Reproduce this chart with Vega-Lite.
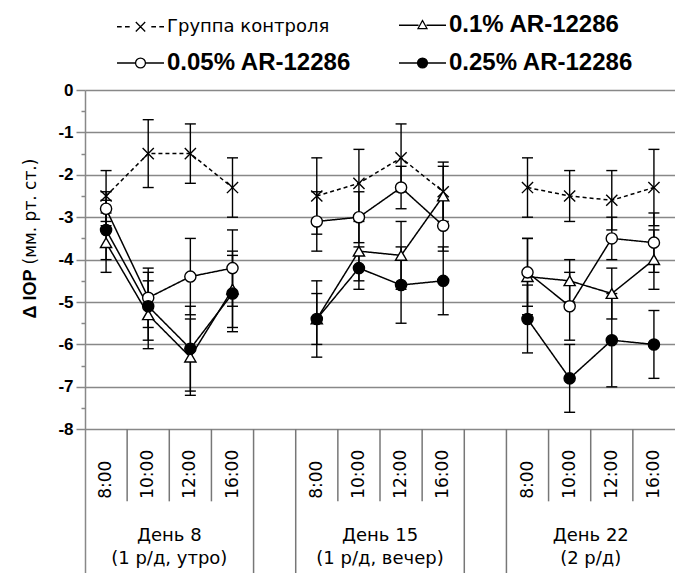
{
  "$schema": "https://vega.github.io/schema/vega-lite/v6.json",
  "width": 590,
  "height": 483,
  "autosize": {"type": "none"},
  "padding": {"left": 85, "top": 90, "right": 0, "bottom": 0},
  "background": "white",
  "config": {"view": {"stroke": null}},
  "datasets": {
    "iop": [
      {"s": "Группа контроля", "day": "D8", "col": "D8 8:00", "t": "8:00", "m": -2.5, "lo": -3.1, "hi": -1.9},
      {"s": "Группа контроля", "day": "D8", "col": "D8 10:00", "t": "10:00", "m": -1.5, "lo": -2.3, "hi": -0.7},
      {"s": "Группа контроля", "day": "D8", "col": "D8 12:00", "t": "12:00", "m": -1.5, "lo": -2.2, "hi": -0.8},
      {"s": "Группа контроля", "day": "D8", "col": "D8 16:00", "t": "16:00", "m": -2.3, "lo": -3.0, "hi": -1.6},
      {"s": "Группа контроля", "day": "D15", "col": "D15 8:00", "t": "8:00", "m": -2.5, "lo": -3.4, "hi": -1.6},
      {"s": "Группа контроля", "day": "D15", "col": "D15 10:00", "t": "10:00", "m": -2.2, "lo": -3.0, "hi": -1.4},
      {"s": "Группа контроля", "day": "D15", "col": "D15 12:00", "t": "12:00", "m": -1.6, "lo": -2.4, "hi": -0.8},
      {"s": "Группа контроля", "day": "D15", "col": "D15 16:00", "t": "16:00", "m": -2.4, "lo": -3.1, "hi": -1.7},
      {"s": "Группа контроля", "day": "D22", "col": "D22 8:00", "t": "8:00", "m": -2.3, "lo": -3.0, "hi": -1.6},
      {"s": "Группа контроля", "day": "D22", "col": "D22 10:00", "t": "10:00", "m": -2.5, "lo": -3.1, "hi": -1.9},
      {"s": "Группа контроля", "day": "D22", "col": "D22 12:00", "t": "12:00", "m": -2.6, "lo": -3.3, "hi": -1.9},
      {"s": "Группа контроля", "day": "D22", "col": "D22 16:00", "t": "16:00", "m": -2.3, "lo": -3.2, "hi": -1.4},

      {"s": "0.1% AR-12286", "day": "D8", "col": "D8 8:00", "t": "8:00", "m": -3.6, "lo": -4.3, "hi": -2.9},
      {"s": "0.1% AR-12286", "day": "D8", "col": "D8 10:00", "t": "10:00", "m": -5.3, "lo": -6.1, "hi": -4.5},
      {"s": "0.1% AR-12286", "day": "D8", "col": "D8 12:00", "t": "12:00", "m": -6.3, "lo": -7.2, "hi": -5.4},
      {"s": "0.1% AR-12286", "day": "D8", "col": "D8 16:00", "t": "16:00", "m": -4.7, "lo": -5.6, "hi": -3.8},
      {"s": "0.1% AR-12286", "day": "D15", "col": "D15 8:00", "t": "8:00", "m": -5.4, "lo": -6.0, "hi": -4.8},
      {"s": "0.1% AR-12286", "day": "D15", "col": "D15 10:00", "t": "10:00", "m": -3.8, "lo": -4.5, "hi": -3.1},
      {"s": "0.1% AR-12286", "day": "D15", "col": "D15 12:00", "t": "12:00", "m": -3.9, "lo": -4.7, "hi": -3.1},
      {"s": "0.1% AR-12286", "day": "D15", "col": "D15 16:00", "t": "16:00", "m": -2.5, "lo": -3.2, "hi": -1.8},
      {"s": "0.1% AR-12286", "day": "D22", "col": "D22 8:00", "t": "8:00", "m": -4.4, "lo": -5.3, "hi": -3.5},
      {"s": "0.1% AR-12286", "day": "D22", "col": "D22 10:00", "t": "10:00", "m": -4.5, "lo": -5.0, "hi": -4.0},
      {"s": "0.1% AR-12286", "day": "D22", "col": "D22 12:00", "t": "12:00", "m": -4.8, "lo": -5.4, "hi": -4.2},
      {"s": "0.1% AR-12286", "day": "D22", "col": "D22 16:00", "t": "16:00", "m": -4.0, "lo": -4.7, "hi": -3.3},

      {"s": "0.05% AR-12286", "day": "D8", "col": "D8 8:00", "t": "8:00", "m": -2.8, "lo": -3.2, "hi": -2.4},
      {"s": "0.05% AR-12286", "day": "D8", "col": "D8 10:00", "t": "10:00", "m": -4.9, "lo": -5.6, "hi": -4.2},
      {"s": "0.05% AR-12286", "day": "D8", "col": "D8 12:00", "t": "12:00", "m": -4.4, "lo": -5.3, "hi": -3.5},
      {"s": "0.05% AR-12286", "day": "D8", "col": "D8 16:00", "t": "16:00", "m": -4.2, "lo": -5.1, "hi": -3.3},
      {"s": "0.05% AR-12286", "day": "D15", "col": "D15 8:00", "t": "8:00", "m": -3.1, "lo": -3.8, "hi": -2.4},
      {"s": "0.05% AR-12286", "day": "D15", "col": "D15 10:00", "t": "10:00", "m": -3.0, "lo": -3.6, "hi": -2.4},
      {"s": "0.05% AR-12286", "day": "D15", "col": "D15 12:00", "t": "12:00", "m": -2.3, "lo": -2.8, "hi": -1.8},
      {"s": "0.05% AR-12286", "day": "D15", "col": "D15 16:00", "t": "16:00", "m": -3.2, "lo": -3.8, "hi": -2.6},
      {"s": "0.05% AR-12286", "day": "D22", "col": "D22 8:00", "t": "8:00", "m": -4.3, "lo": -5.1, "hi": -3.5},
      {"s": "0.05% AR-12286", "day": "D22", "col": "D22 10:00", "t": "10:00", "m": -5.1, "lo": -5.9, "hi": -4.3},
      {"s": "0.05% AR-12286", "day": "D22", "col": "D22 12:00", "t": "12:00", "m": -3.5, "lo": -4.0, "hi": -3.0},
      {"s": "0.05% AR-12286", "day": "D22", "col": "D22 16:00", "t": "16:00", "m": -3.6, "lo": -4.3, "hi": -2.9},

      {"s": "0.25% AR-12286", "day": "D8", "col": "D8 8:00", "t": "8:00", "m": -3.3, "lo": -4.0, "hi": -2.6},
      {"s": "0.25% AR-12286", "day": "D8", "col": "D8 10:00", "t": "10:00", "m": -5.1, "lo": -5.9, "hi": -4.3},
      {"s": "0.25% AR-12286", "day": "D8", "col": "D8 12:00", "t": "12:00", "m": -6.1, "lo": -7.1, "hi": -5.1},
      {"s": "0.25% AR-12286", "day": "D8", "col": "D8 16:00", "t": "16:00", "m": -4.8, "lo": -5.7, "hi": -3.9},
      {"s": "0.25% AR-12286", "day": "D15", "col": "D15 8:00", "t": "8:00", "m": -5.4, "lo": -6.3, "hi": -4.5},
      {"s": "0.25% AR-12286", "day": "D15", "col": "D15 10:00", "t": "10:00", "m": -4.2, "lo": -4.7, "hi": -3.7},
      {"s": "0.25% AR-12286", "day": "D15", "col": "D15 12:00", "t": "12:00", "m": -4.6, "lo": -5.5, "hi": -3.7},
      {"s": "0.25% AR-12286", "day": "D15", "col": "D15 16:00", "t": "16:00", "m": -4.5, "lo": -5.3, "hi": -3.7},
      {"s": "0.25% AR-12286", "day": "D22", "col": "D22 8:00", "t": "8:00", "m": -5.4, "lo": -6.2, "hi": -4.6},
      {"s": "0.25% AR-12286", "day": "D22", "col": "D22 10:00", "t": "10:00", "m": -6.8, "lo": -7.6, "hi": -6.0},
      {"s": "0.25% AR-12286", "day": "D22", "col": "D22 12:00", "t": "12:00", "m": -5.9, "lo": -7.0, "hi": -4.8},
      {"s": "0.25% AR-12286", "day": "D22", "col": "D22 16:00", "t": "16:00", "m": -6.0, "lo": -6.8, "hi": -5.2}
    ],
    "cells": [
      {"col": "D8 8:00", "kind": "short"},
      {"col": "D8 10:00", "kind": "short"},
      {"col": "D8 12:00", "kind": "short"},
      {"col": "D8 16:00", "kind": "full"},
      {"col": "g1", "kind": "full"},
      {"col": "D15 8:00", "kind": "short"},
      {"col": "D15 10:00", "kind": "short"},
      {"col": "D15 12:00", "kind": "short"},
      {"col": "D15 16:00", "kind": "full"},
      {"col": "g2", "kind": "full"},
      {"col": "D22 8:00", "kind": "short"},
      {"col": "D22 10:00", "kind": "short"},
      {"col": "D22 12:00", "kind": "short"}
    ],
    "groups": [
      {"col": "D8 10:00", "l1": "День 8", "l2": "(1 р/д, утро)"},
      {"col": "D15 10:00", "l1": "День 15", "l2": "(1 р/д, вечер)"},
      {"col": "D22 10:00", "l1": "День 22", "l2": "(2 р/д)"}
    ]
  },
  "resolve": {"axis": {"y": "independent"}, "scale": {"shape": "independent"}},
  "layer": [
    {
      "data": {"name": "iop"},
      "mark": {"type": "rule", "color": "black", "strokeWidth": 1.4},
      "encoding": {
        "x": {"field": "col", "type": "nominal", "bandPosition": 0.5, "axis": null,
          "scale": {"type": "band", "paddingInner": 0, "paddingOuter": 0,
            "domain": ["D8 8:00", "D8 10:00", "D8 12:00", "D8 16:00", "g1", "D15 8:00", "D15 10:00", "D15 12:00", "D15 16:00", "g2", "D22 8:00", "D22 10:00", "D22 12:00", "D22 16:00"]}},
        "y": {"field": "lo", "type": "quantitative",
          "scale": {"domain": [-11.39, 0], "nice": false, "zero": false},
          "axis": {
            "values": [0, -0.5, -1, -1.5, -2, -2.5, -3, -3.5, -4, -4.5, -5, -5.5, -6, -6.5, -7, -7.5, -8],
            "labelExpr": "datum.value % 1 == 0 ? (datum.value == 0 ? '0' : '-' + abs(datum.value)) : ''",
            "labelFont": "Liberation Sans", "labelFontSize": 17, "labelFontWeight": "bold", "labelColor": "black",
            "labelPadding": 3, "labelOverlap": false,
            "tickSize": {"condition": {"test": "datum.value % 1 == 0", "value": 9}, "value": 4},
            "tickColor": "#888888", "tickWidth": 1.5,
            "grid": true, "gridColor": "#888888", "gridWidth": 1.5,
            "gridOpacity": {"condition": {"test": "datum.value % 1 == 0", "value": 1}, "value": 0},
            "domainColor": "#888888", "domainWidth": 1.5,
            "title": "Δ IOP", "titleFont": "Liberation Sans", "titleFontSize": 18, "titleFontWeight": "bold",
            "titleColor": "black", "titleAngle": 270, "titleAlign": "left", "titleBaseline": "alphabetic",
            "titleX": -50, "titleY": 228
          }},
        "y2": {"field": "hi"}
      }
    },
    {
      "data": {"name": "iop"},
      "mark": {"type": "tick", "orient": "horizontal", "color": "black", "size": 11, "thickness": 1.4, "opacity": 1},
      "encoding": {
        "x": {"field": "col", "type": "nominal", "bandPosition": 0.5, "axis": null,
          "scale": {"type": "band", "paddingInner": 0, "paddingOuter": 0}},
        "y": {"field": "lo", "type": "quantitative", "axis": null}
      }
    },
    {
      "data": {"name": "iop"},
      "mark": {"type": "tick", "orient": "horizontal", "color": "black", "size": 11, "thickness": 1.4, "opacity": 1},
      "encoding": {
        "x": {"field": "col", "type": "nominal", "bandPosition": 0.5, "axis": null,
          "scale": {"type": "band", "paddingInner": 0, "paddingOuter": 0}},
        "y": {"field": "hi", "type": "quantitative", "axis": null}
      }
    },
    {
      "data": {"name": "iop"},
      "mark": {"type": "line", "color": "black", "strokeWidth": 1.5},
      "encoding": {
        "x": {"field": "col", "type": "nominal", "bandPosition": 0.5, "axis": null, "sort": null,
          "scale": {"type": "band", "paddingInner": 0, "paddingOuter": 0}},
        "y": {"field": "m", "type": "quantitative",
          "axis": {
            "orient": "right", "domain": false, "ticks": false, "labels": false, "grid": false,
            "title": "(мм. рт. ст.)", "titleFont": "DejaVu Sans", "titleFontSize": 17, "titleFontWeight": "normal",
            "titleColor": "black", "titleAngle": 270, "titleAlign": "left", "titleBaseline": "alphabetic",
            "titleX": -640, "titleY": 174
          }},
        "detail": {"field": "day"},
        "strokeDash": {"field": "s", "type": "nominal", "legend": null,
          "scale": {"domain": ["0.1% AR-12286", "0.05% AR-12286", "0.25% AR-12286", "Группа контроля"],
            "range": [[1, 0], [1, 0], [1, 0], [4, 3]]}}
      }
    },
    {
      "data": {"name": "iop"},
      "mark": {"type": "point", "filled": true, "stroke": "black", "strokeWidth": 1.4, "size": 125, "opacity": 1},
      "encoding": {
        "x": {"field": "col", "type": "nominal", "bandPosition": 0.5, "axis": null,
          "scale": {"type": "band", "paddingInner": 0, "paddingOuter": 0}},
        "y": {"field": "m", "type": "quantitative", "axis": null},
        "fill": {"field": "s", "type": "nominal", "legend": null,
          "scale": {"domain": ["0.25% AR-12286", "Группа контроля", "0.1% AR-12286", "0.05% AR-12286"],
            "range": ["black", "white", "white", "white"]}},
        "shape": {"field": "s", "type": "nominal", "legend": null,
          "scale": {"domain": ["0.05% AR-12286", "0.25% AR-12286", "Группа контроля", "0.1% AR-12286"],
            "range": ["circle", "circle", "M-1,-1L1,1M-1,1L1,-1", "triangle-up"]}}
      }
    },
    {
      "data": {"name": "iop"},
      "transform": [{"filter": "datum.s === 'none'"}],
      "mark": {"type": "point", "filled": true, "stroke": "black", "strokeWidth": 1.3, "opacity": 1},
      "encoding": {
        "shape": {"field": "s", "type": "nominal",
          "scale": {"domain": ["Группа контроля", "0.1% AR-12286", "0.05% AR-12286", "0.25% AR-12286"],
            "range": [
              "M-2,0H-1.6M-1.32,0H-0.92M-0.4,-0.4L0.4,0.4M-0.4,0.4L0.4,-0.4M0.92,0H1.32M1.6,0H2",
              "M-2,0H-0.34M0.34,0H2M0,-0.4L0.38,0.28L-0.38,0.28Z",
              "M-2,0H-0.42M0.42,0H2M0.42,0A0.42,0.42,0,1,1,-0.42,0A0.42,0.42,0,1,1,0.42,0Z",
              "M-2,0H-0.42M0.42,0H2M0.42,0A0.42,0.42,0,1,1,-0.42,0A0.42,0.42,0,1,1,0.42,0Z"]},
          "legend": {
            "orient": "none", "legendX": 32, "legendY": -77.5, "columns": 2, "direction": "horizontal",
            "title": null, "padding": 0, "symbolOffset": 11,
            "labelOffset": 14, "columnPadding": 44, "rowPadding": 13, "labelLimit": 400,
            "labelFont": "Liberation Sans", "labelFontSize": 24, "labelFontWeight": "bold", "labelColor": "black",
            "encoding": {
              "symbols": {
                "fill": {"condition": {"test": "datum.value === '0.25% AR-12286'", "value": "black"}, "value": "white"},
                "stroke": {"value": "black"},
                "strokeWidth": {"value": 1.3},
                "size": {"value": 552},
                "opacity": {"value": 1}
              },
              "labels": {
                "fontSize": {"condition": {"test": "datum.value === 'Группа контроля'", "value": 18}, "value": 24},
                "fontWeight": {"condition": {"test": "datum.value === 'Группа контроля'", "value": "normal"}, "value": "bold"},
                "font": {"condition": {"test": "datum.value === 'Группа контроля'", "value": "DejaVu Sans"}, "value": "Liberation Sans"}
              }
            }
          }}
      }
    },
    {
      "data": {"name": "cells"},
      "transform": [{"filter": "datum.kind === 'short'"}],
      "mark": {"type": "rule", "color": "#777777", "strokeWidth": 1.5},
      "encoding": {
        "x": {"field": "col", "type": "nominal", "bandPosition": 1, "axis": null,
          "scale": {"type": "band", "paddingInner": 0, "paddingOuter": 0}},
        "y": {"datum": -8, "type": "quantitative", "axis": null},
        "y2": {"datum": -9.7}
      }
    },
    {
      "data": {"name": "cells"},
      "transform": [{"filter": "datum.kind === 'full'"}],
      "mark": {"type": "rule", "color": "#777777", "strokeWidth": 1.5},
      "encoding": {
        "x": {"field": "col", "type": "nominal", "bandPosition": 1, "axis": null,
          "scale": {"type": "band", "paddingInner": 0, "paddingOuter": 0}},
        "y": {"datum": -8, "type": "quantitative", "axis": null},
        "y2": {"datum": -11.39}
      }
    },
    {
      "data": {"name": "iop"},
      "transform": [{"filter": "datum.s === 'Группа контроля'"}],
      "mark": {"type": "text", "angle": 270, "align": "left", "baseline": "middle", "font": "DejaVu Sans", "fontSize": 17, "color": "black"},
      "encoding": {
        "x": {"field": "col", "type": "nominal", "bandPosition": 0.5, "axis": null,
          "scale": {"type": "band", "paddingInner": 0, "paddingOuter": 0}},
        "y": {"datum": -9.64, "type": "quantitative", "axis": null},
        "text": {"field": "t"}
      }
    },
    {
      "data": {"name": "groups"},
      "mark": {"type": "text", "align": "center", "baseline": "middle", "font": "DejaVu Sans", "fontSize": 18, "color": "black"},
      "encoding": {
        "x": {"field": "col", "type": "nominal", "bandPosition": 1, "axis": null,
          "scale": {"type": "band", "paddingInner": 0, "paddingOuter": 0}},
        "y": {"datum": -10.52, "type": "quantitative", "axis": null},
        "text": {"field": "l1"}
      }
    },
    {
      "data": {"name": "groups"},
      "mark": {"type": "text", "align": "center", "baseline": "middle", "font": "DejaVu Sans", "fontSize": 18, "color": "black"},
      "encoding": {
        "x": {"field": "col", "type": "nominal", "bandPosition": 1, "axis": null,
          "scale": {"type": "band", "paddingInner": 0, "paddingOuter": 0}},
        "y": {"datum": -11.07, "type": "quantitative", "axis": null},
        "text": {"field": "l2"}
      }
    }
  ]
}
